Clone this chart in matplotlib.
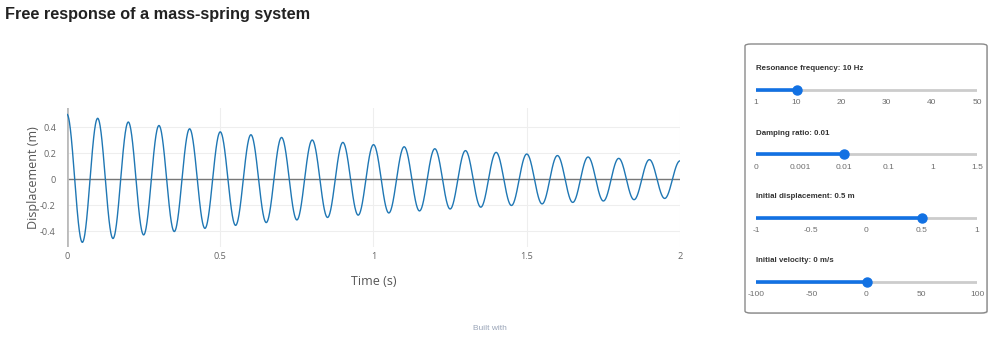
import numpy as np
import matplotlib.pyplot as plt
from matplotlib.patches import FancyBboxPatch

# Slider settings shown in the control panel
freq_ticks = [1, 10, 20, 30, 40, 50]
freq_value = 10  # Hz
damping_labels = ['0', '0.001', '0.01', '0.1', '1', '1.5']
damping_value = 0.01
disp_ticks = [-1, -0.5, 0, 0.5, 1]
disp_value = 0.5  # m
vel_ticks = [-100, -50, 0, 50, 100]
vel_value = 0  # m/s

t_max = 2.0
x_ticks = [0, 0.5, 1, 1.5, 2]
x_tick_labels = ['0', '0.5', '1', '1.5', '2']
y_ticks = [-0.4, -0.2, 0, 0.2, 0.4]
y_tick_labels = ['-0.4', '-0.2', '0', '0.2', '0.4']

# Free response of the damped mass-spring system for the slider settings
wn = 2 * np.pi * freq_value
zeta = damping_value
wd = wn * np.sqrt(1 - zeta ** 2)
t = np.linspace(0, t_max, 2000)
x = np.exp(-zeta * wn * t) * (disp_value * np.cos(wd * t)
                              + (vel_value + zeta * wn * disp_value) / wd * np.sin(wd * t))

W, H = 1000, 338
fig = plt.figure(figsize=(W / 100, H / 100), dpi=100)
fig.patch.set_facecolor('white')

def fx(px):
    return px / W

def fy(py):
    return 1 - py / H

fig.text(fx(5), fy(15), 'Free response of a mass-spring system', fontsize=11.7, fontweight='bold',
         family='Liberation Sans', color='#222222', va='center', ha='left')

# main plot
ax = fig.add_axes([fx(67), fy(246.7), fx(680 - 67), (246.7 - 107.7) / H])
ax.plot(t, x, color='#1f77b4', lw=1.0, zorder=3)
ax.set_xlim(0, t_max)
ax.set_ylim(-0.518, 0.551)
for s in ax.spines.values():
    s.set_visible(False)
ax.set_xticks(x_ticks)
ax.set_xticklabels(x_tick_labels)
ax.set_yticks(y_ticks)
ax.set_yticklabels(y_tick_labels)
ax.tick_params(length=0, labelsize=6.6, labelcolor='#666666')
ax.tick_params(axis='x', pad=4)
ax.tick_params(axis='y', pad=8)
for lab in ax.get_xticklabels() + ax.get_yticklabels():
    lab.set_family('Open Sans')
ax.grid(True, color='#eeeeee', lw=0.8, zorder=0)
ax.axhline(0, color='#777777', lw=1, zorder=2)
ax.axvline(0, color='#bbbbbb', lw=2, zorder=2)
ax.set_xlabel('Time (s)', fontsize=9, family='Open Sans', color='#555555', labelpad=10)
ax.set_ylabel('Displacement (m)', fontsize=9, family='Open Sans', color='#555555')
ax.yaxis.set_label_coords((40 - 67) / 613, 0.5)

# control panel box
shadow = FancyBboxPatch((fx(746), fy(314)), fx(242), (313 - 44) / H, boxstyle='round,pad=0,rounding_size=0.006',
                        transform=fig.transFigure, facecolor='#dddddd', edgecolor='none', zorder=-2)
box = FancyBboxPatch((fx(745), fy(313)), fx(242), (313 - 44) / H, boxstyle='round,pad=0,rounding_size=0.006',
                     transform=fig.transFigure, facecolor='white', edgecolor='#8a8a8a', lw=1, zorder=-1)
fig.patches.extend([shadow, box])

blue = '#1271e3'
sliders = [
    ('Resonance frequency: 10 Hz', freq_ticks, [str(v) for v in freq_ticks], freq_value, 90),
    ('Damping ratio: 0.01', list(range(len(damping_labels))), damping_labels,
     damping_labels.index(str(damping_value)), 154.3),
    ('Initial displacement: 0.5 m', disp_ticks, [str(v) for v in disp_ticks], disp_value, 217.7),
    ('Initial velocity: 0 m/s', vel_ticks, [str(v) for v in vel_ticks], vel_value, 281.7),
]
for title, ticks, labels, value, ty in sliders:
    sax = fig.add_axes([fx(756), fy(ty + 20), fx(977 - 756), 45 / H])
    sax.set_xlim(ticks[0], ticks[-1])
    sax.set_ylim(20, -25)
    sax.axis('off')
    sax.plot([ticks[0], ticks[-1]], [0, 0], color='#cccccc', lw=2, solid_capstyle='round', zorder=1)
    sax.plot([ticks[0], value], [0, 0], color=blue, lw=2.6, solid_capstyle='round', zorder=2)
    sax.plot([value], [0], 'o', color=blue, ms=6.5, zorder=3, clip_on=False)
    sax.text(ticks[0], -21, title, fontsize=5.7, fontweight='bold', family='Liberation Sans',
             color='#333333', ha='left', va='center')
    for v, lab in zip(ticks, labels):
        sax.text(v, 13, lab, fontsize=6, family='Liberation Sans',
                 color='#6e6e6e', ha='center', va='center')

fig.text(fx(490), fy(328), 'Built with', fontsize=6, family='Liberation Sans', color='#9aa5b8',
         ha='center', va='center')

fig.savefig('out.png', dpi=100)
